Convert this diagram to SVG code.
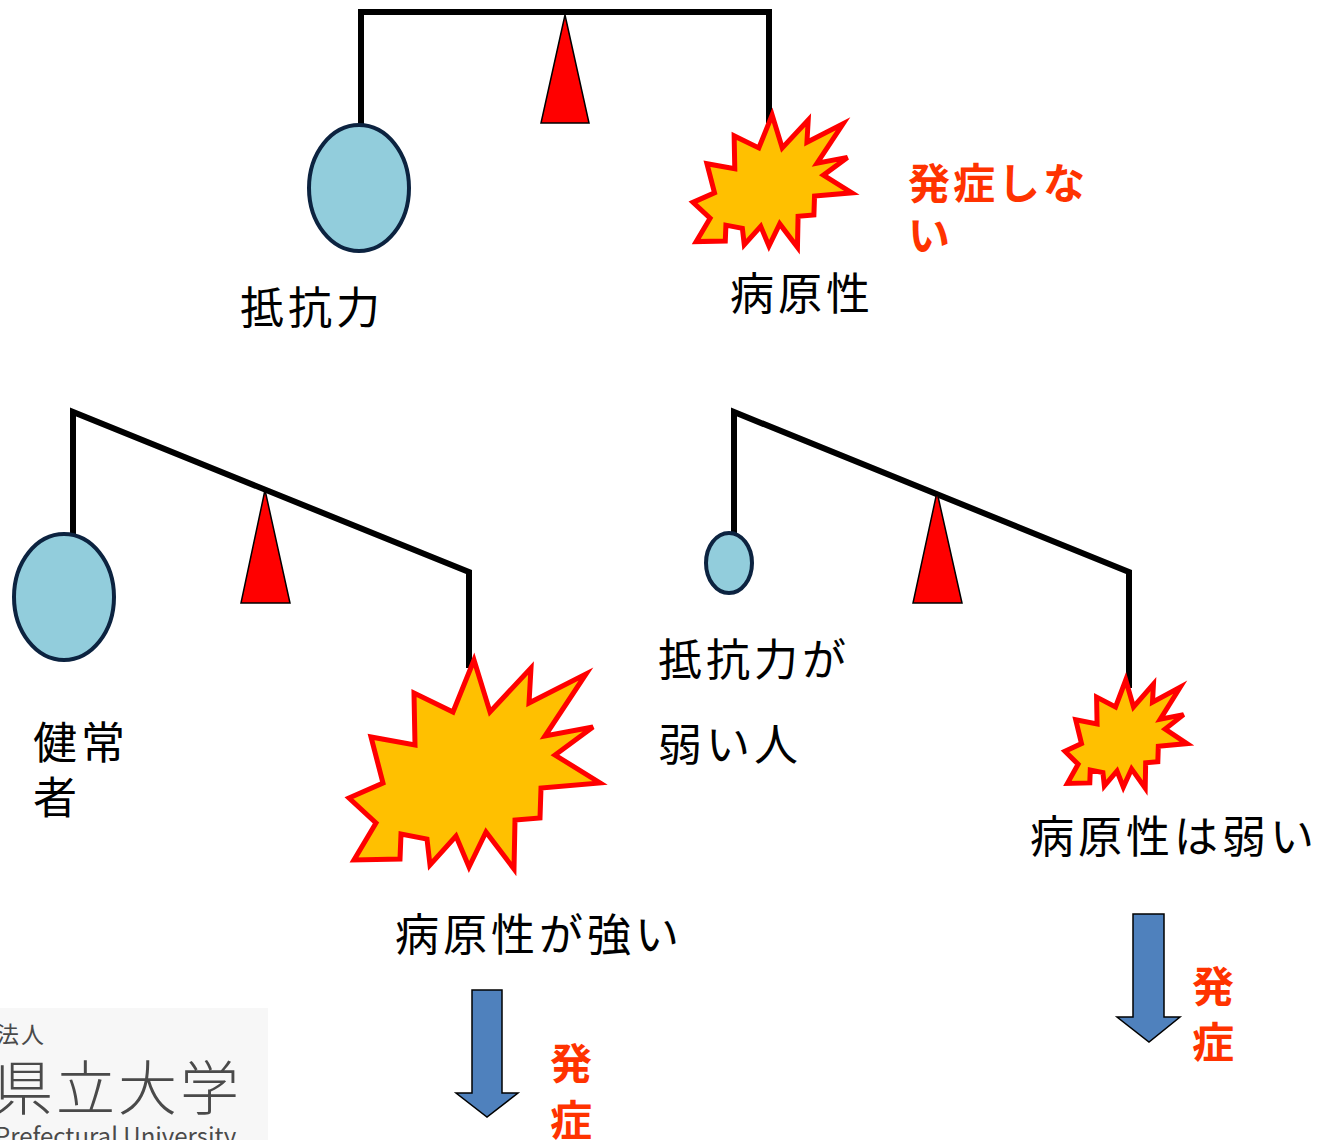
<svg xmlns="http://www.w3.org/2000/svg" xmlns:xlink="http://www.w3.org/1999/xlink" width="1317" height="1140" viewBox="0 0 1317 1140">
  <style>
    .beam { fill: none; stroke: #000; stroke-width: 6; stroke-linecap: square; }
    .fulcrum { fill: #ff0000; stroke: #000; stroke-width: 1.5; stroke-linejoin: miter; }
    .host { fill: #92cddc; stroke: #0c2340; stroke-width: 4; }
    .burst { fill: #ffc000; stroke: #ff0000; stroke-width: 5; stroke-linejoin: miter; }
    .down { fill: #4f81bd; stroke: #000; stroke-width: 1.5; }
    .lbl { font-family: "Noto Sans CJK JP", "Noto Sans", sans-serif; font-size: 44px; letter-spacing: 4px; fill: #000; }
    .hot { font-family: "Noto Sans CJK JP", "Noto Sans", sans-serif; font-size: 42px; letter-spacing: 3px; font-weight: bold; fill: #ff3300; }
    .logo { font-family: "Noto Sans CJK JP", "Noto Sans", sans-serif; fill: #4a4a4a; }
  </style>
  <defs>
    <!-- explosion outline, drawn at full size; smaller copies are scaled -->
    <polygon id="burst" vector-effect="non-scaling-stroke" points="125,0 141,52 182,8 180,43 237,14 196,76 244,67 206,95 251,123 192,128 191,158 166,160 165,209 137,172 120,207 107,176 81,205 78,179 52,174 51,199 5,200 27,163 0,138 34,123 22,77 66,85 65,33 104,52"/>
  </defs>
  <rect width="1317" height="1140" fill="#fff"/>

  <!-- balance beams and hangers -->
  <g id="connectors">
    <polyline class="beam" points="361,125 361,12 769,12 769,120"/>
    <polyline class="beam" points="73,535 73,412 469,572 469,665"/>
    <polyline class="beam" points="734,535 734,412 1129,572 1129,685"/>
  </g>

  <!-- top scale: balanced -->
  <g id="fulcrum-top"><polygon class="fulcrum" points="565,15 541,123 589,123"/></g>
  <g id="host-top"><ellipse class="host" cx="359" cy="188" rx="50" ry="63"/></g>
  <g id="pathogen-top"><use href="#burst" class="burst" transform="translate(693,115) scale(0.633)"/></g>
  <g id="label-resistance"><text class="lbl" x="240" y="324">抵抗力</text></g>
  <g id="label-pathogenicity"><text class="lbl" x="730" y="310">病原性</text></g>
  <g id="label-no-onset">
    <text class="hot" x="908" y="199">発症しな</text>
    <text class="hot" x="908" y="251">い</text>
  </g>

  <!-- lower left scale: strong pathogen -->
  <g id="fulcrum-left"><polygon class="fulcrum" points="265,490 241,603 290,603"/></g>
  <g id="host-healthy"><ellipse class="host" cx="64" cy="597" rx="50" ry="63"/></g>
  <g id="pathogen-strong"><use href="#burst" class="burst" transform="translate(349,660)"/></g>
  <g id="label-healthy">
    <text class="lbl" x="33" y="759">健常</text>
    <text class="lbl" x="33" y="814">者</text>
  </g>
  <g id="label-strong"><text class="lbl" x="395" y="951">病原性が強い</text></g>
  <g id="arrow-left"><polygon class="down" points="472,990 502,990 502,1093 518,1093 487,1117 456,1093 472,1093"/></g>
  <g id="label-onset-left">
    <text class="hot" x="550" y="1079">発</text>
    <text class="hot" x="550" y="1136">症</text>
  </g>

  <!-- lower right scale: weak host -->
  <g id="fulcrum-right"><polygon class="fulcrum" points="937,492 913,603 962,603"/></g>
  <g id="host-weak"><ellipse class="host" cx="729" cy="563" rx="23" ry="30"/></g>
  <g id="pathogen-weak"><use href="#burst" class="burst" transform="translate(1065,680) scale(0.486,0.517)"/></g>
  <g id="label-weak-host">
    <text class="lbl" x="658" y="676">抵抗力が</text>
    <text class="lbl" x="658" y="761">弱い人</text>
  </g>
  <g id="label-weak-pathogen"><text class="lbl" x="1030" y="853">病原性は弱い</text></g>
  <g id="arrow-right"><polygon class="down" points="1133,914 1164,914 1164,1017 1180,1017 1149,1042 1117,1017 1133,1017"/></g>
  <g id="label-onset-right">
    <text class="hot" x="1192" y="1002">発</text>
    <text class="hot" x="1192" y="1058">症</text>
  </g>

  <!-- university logo, cropped at the corner -->
  <g id="logo">
    <rect x="0" y="1008" width="268" height="132" fill="#f7f7f7"/>
    <text class="logo" x="-4" y="1043" font-size="23" letter-spacing="2">法人</text>
    <text class="logo" x="-6" y="1110" font-size="59" font-weight="300" letter-spacing="3">県立大学</text>
    <text class="logo" x="-5" y="1145" font-size="24">Prefectural University</text>
  </g>
</svg>
